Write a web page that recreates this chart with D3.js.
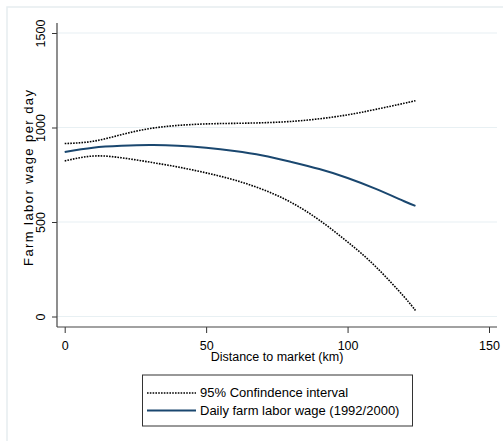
<!DOCTYPE html>
<html>
<head>
<meta charset="utf-8">
<script src="https://cdn.jsdelivr.net/npm/d3@7"></script>
<style>
  body { margin: 0; background: #fff; }
  svg text { font-family: "Liberation Sans", Arial, sans-serif; fill: #000; }
</style>
</head>
<body>
<div id="chart"></div>
<script>
// distance to market (km)
const distance = [0, 10, 20, 30, 40, 50, 60, 70, 80, 90, 100, 110, 120, 124];
// fitted daily farm labor wage and 95% CI bounds
const wage  = [870, 893, 903, 907, 904, 893, 876, 852, 818, 780, 733, 675, 610, 585];
const upper = [915, 927, 962, 994, 1011, 1019, 1022, 1025, 1032, 1046, 1067, 1096, 1128, 1142];
const lower = [823, 849, 840, 817, 791, 760, 722, 672, 604, 510, 395, 263, 104, 32];

const xTicks = [0, 50, 100, 150];
const yTicks = [0, 500, 1000, 1500];

const width = 503, height = 441;

const svg = d3.select('#chart')
  .append('svg')
  .attr('width', width)
  .attr('height', height);

// light outer frame of the graph region
svg.append('rect')
  .attr('x', 7).attr('y', 7)
  .attr('width', width + 20).attr('height', height + 20)
  .attr('fill', 'none')
  .attr('stroke', '#e6edf0')
  .attr('stroke-width', 1.5);

const x = d3.scaleLinear().domain([0, 150]).range([64.7, 489]);
const y = d3.scaleLinear().domain([0, 1500]).range([316.5, 33]);

const plotLeft = 57, plotRight = 497, plotTop = 23, plotBottom = 327;

// gridlines
svg.append('g')
  .selectAll('line')
  .data(yTicks)
  .enter()
  .append('line')
  .attr('x1', plotLeft).attr('x2', plotRight)
  .attr('y1', d => y(d)).attr('y2', d => y(d))
  .attr('stroke', '#e8f0f3')
  .attr('stroke-width', 1.2);

// y axis
const yAxis = svg.append('g')
  .attr('transform', `translate(${plotLeft},0)`)
  .call(d3.axisLeft(y).tickValues(yTicks).tickSize(5).tickFormat(d3.format('d')));
yAxis.select('.domain').remove();
yAxis.selectAll('.tick line').attr('stroke', '#333');
yAxis.selectAll('.tick text')
  .attr('transform', 'rotate(-90)')
  .attr('x', 0)
  .attr('y', -12.5)
  .attr('dy', 0)
  .attr('text-anchor', 'middle')
  .style('font-size', '12.5px');

// x axis
const xAxis = svg.append('g')
  .attr('transform', `translate(0,${plotBottom})`)
  .call(d3.axisBottom(x).tickValues(xTicks).tickSize(6).tickFormat(d3.format('d')));
xAxis.select('.domain').remove();
xAxis.selectAll('.tick line').attr('stroke', '#333');
xAxis.selectAll('.tick text')
  .attr('y', 23)
  .attr('dy', 0)
  .style('font-size', '12.5px');

// axis lines
svg.append('line')
  .attr('x1', plotLeft).attr('x2', plotLeft)
  .attr('y1', plotTop).attr('y2', plotBottom)
  .attr('stroke', '#444').attr('stroke-width', 1.2);
svg.append('line')
  .attr('x1', plotLeft).attr('x2', plotRight)
  .attr('y1', plotBottom).attr('y2', plotBottom)
  .attr('stroke', '#444').attr('stroke-width', 1.2);

// axis titles
svg.append('text')
  .attr('x', (plotLeft + plotRight) / 2)
  .attr('y', 361)
  .attr('text-anchor', 'middle')
  .style('font-size', '12.5px')
  .text('Distance to market (km)');

svg.append('text')
  .attr('transform', 'translate(32.5,178) rotate(-90)')
  .attr('text-anchor', 'middle')
  .attr('textLength', 176)
  .style('font-size', '13px')
  .text('Farm labor wage per day');

// lines
const line = vals => d3.line()
  .x((d, i) => x(distance[i]))
  .y(d => y(d))
  .curve(d3.curveNatural)(vals);

const ciStyle = sel => sel
  .attr('fill', 'none')
  .attr('stroke', '#000')
  .attr('stroke-width', 1.6)
  .attr('stroke-dasharray', '1.6,1.2');

svg.append('path').attr('d', line(upper)).call(ciStyle);
svg.append('path').attr('d', line(lower)).call(ciStyle);
svg.append('path')
  .attr('d', line(wage))
  .attr('fill', 'none')
  .attr('stroke', '#1a476f')
  .attr('stroke-width', 2);

// legend
const legend = svg.append('g');
legend.append('rect')
  .attr('x', 142.5).attr('y', 375)
  .attr('width', 270).attr('height', 51)
  .attr('fill', '#fff')
  .attr('stroke', '#333')
  .attr('stroke-width', 1);

legend.append('line')
  .attr('x1', 147).attr('x2', 196)
  .attr('y1', 393).attr('y2', 393)
  .call(ciStyle);
legend.append('text')
  .attr('x', 200).attr('y', 397)
  .style('font-size', '13px')
  .text('95% Confindence interval');

legend.append('line')
  .attr('x1', 147).attr('x2', 196)
  .attr('y1', 410.5).attr('y2', 410.5)
  .attr('stroke', '#1a476f')
  .attr('stroke-width', 2);
legend.append('text')
  .attr('x', 200).attr('y', 415)
  .style('font-size', '13px')
  .text('Daily farm labor wage (1992/2000)');
</script>
</body>
</html>
